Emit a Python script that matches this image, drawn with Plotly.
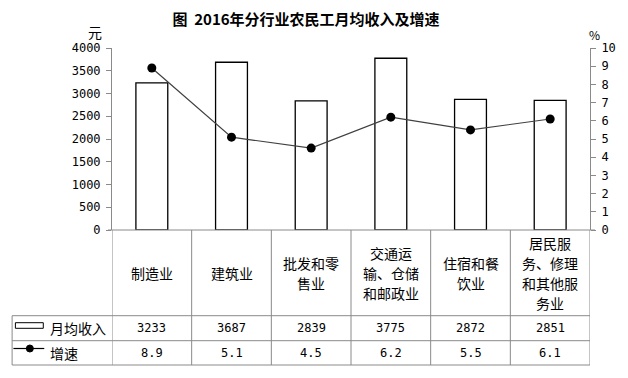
import plotly.graph_objects as go

categories = ["制造业", "建筑业", "批发和零\n售业", "交通运\n输、仓储\n和邮政业", "住宿和餐\n饮业", "居民服\n务、修理\n和其他服\n务业"]
income = [3233, 3687, 2839, 3775, 2872, 2851]
growth = [8.9, 5.1, 4.5, 6.2, 5.5, 6.1]
series_names = ["月均收入", "增速"]
title_text = "图  2016年分行业农民工月均收入及增速"

W, H = 628, 378
L, R, T, B = 112, 36, 48, 148
PH = H - T - B
PW = W - L - R

def py(ypx):
    return (H - B - ypx) / PH

def px(xpx):
    return (xpx - L) / PW

CJK = "Noto Sans CJK SC"
MONO = "DejaVu Sans Mono"
GRAY = "#8a8a8a"

xs = list(range(len(categories)))

fig = go.Figure()
fig.add_trace(go.Bar(x=xs, y=income, width=0.4, name=series_names[0],
                     marker=dict(color="white", line=dict(color="black", width=1.3)),
                     yaxis="y"))
fig.add_trace(go.Scatter(x=xs, y=growth, mode="lines+markers", name=series_names[1],
                         line=dict(color="#404040", width=1.2),
                         marker=dict(color="black", size=9), yaxis="y2"))

shapes = []
for yy in [315.7, 340.7, 365]:
    shapes.append(dict(type="line", xref="paper", yref="paper", x0=px(11.7), x1=1, y0=py(yy), y1=py(yy),
                       line=dict(color=GRAY, width=1)))
shapes.append(dict(type="line", xref="paper", yref="paper", x0=px(11.7), x1=px(11.7), y0=py(315.7), y1=py(365),
                   line=dict(color=GRAY, width=1)))
for i in range(len(categories) + 1):
    shapes.append(dict(type="line", xref="x", yref="paper", x0=i - 0.5, x1=i - 0.5, y0=0, y1=py(365),
                       line=dict(color=GRAY, width=1)))
shapes.append(dict(type="rect", xref="paper", yref="paper", x0=px(15), x1=px(43), y0=py(328.3), y1=py(322.7),
                   line=dict(color="black", width=1), fillcolor="white"))
shapes.append(dict(type="line", xref="paper", yref="paper", x0=px(13), x1=px(44), y0=py(348.5), y1=py(348.5),
                   line=dict(color="black", width=1.2)))
shapes.append(dict(type="circle", xref="paper", yref="paper", x0=px(26), x1=px(33), y0=py(352), y1=py(345),
                   line=dict(color="black", width=1), fillcolor="black"))
shapes.append(dict(type="line", xref="paper", yref="paper", x0=px(108), x1=px(597), y0=0, y1=0,
                   line=dict(color=GRAY, width=1)))

annotations = []
for i, c in enumerate(categories):
    lines = c.split("\n")
    n = len(lines)
    for j, ln in enumerate(lines):
        yc = 273 + (j - (n - 1) / 2) * 20
        annotations.append(dict(x=i, y=py(yc), xref="x", yref="paper", text=ln, showarrow=False,
                                xanchor="center", yanchor="middle", font=dict(family=CJK, size=14, color="black")))
for i, v in enumerate(income):
    annotations.append(dict(x=i, y=py(328.2), xref="x", yref="paper", text=str(v), showarrow=False,
                            xanchor="center", yanchor="middle", font=dict(family=MONO, size=12, color="black")))
for i, v in enumerate(growth):
    annotations.append(dict(x=i, y=py(352.8), xref="x", yref="paper", text=f"{v:.1f}", showarrow=False,
                            xanchor="center", yanchor="middle", font=dict(family=MONO, size=12, color="black")))
annotations.append(dict(x=px(48), y=py(328.2), xref="paper", yref="paper", text=series_names[0], showarrow=False,
                        xanchor="left", yanchor="middle", font=dict(family=CJK, size=14, color="black")))
annotations.append(dict(x=px(48), y=py(352.8), xref="paper", yref="paper", text=series_names[1], showarrow=False,
                        xanchor="left", yanchor="middle", font=dict(family=CJK, size=14, color="black")))
annotations.append(dict(x=px(95), y=py(32), xref="paper", yref="paper", text="元", showarrow=False,
                        xanchor="center", yanchor="middle", font=dict(family=CJK, size=14, color="black")))
annotations.append(dict(x=px(597), y=py(34), xref="paper", yref="paper", text="%", showarrow=False,
                        xanchor="center", yanchor="middle", font=dict(family=CJK, size=12, color="black")))

fig.update_layout(
    width=W, height=H,
    margin=dict(l=L, r=R, t=T, b=B, pad=0),
    paper_bgcolor="white", plot_bgcolor="white",
    showlegend=False,
    title=dict(text="<b>" + title_text + "</b>", x=306 / W, xref="container", xanchor="center",
               y=1 - 20 / H, yanchor="middle", font=dict(family=CJK, size=15, color="black")),
    xaxis=dict(range=[-0.5, len(categories) - 0.5], showticklabels=False, ticks="",
               showgrid=False, zeroline=False, showline=False),
    yaxis=dict(range=[0, 4000], dtick=500, ticks="outside", ticklen=5, tickcolor=GRAY,
               showline=True, linecolor=GRAY, linewidth=1, showgrid=False, zeroline=False,
               ticklabelstandoff=3,
               tickfont=dict(family=MONO, size=12, color="black")),
    yaxis2=dict(range=[0, 10], dtick=1, overlaying="y", side="right", ticks="outside", ticklen=5,
                tickcolor=GRAY, showline=True, linecolor=GRAY, linewidth=1, showgrid=False, zeroline=False,
                ticklabelstandoff=3,
                tickfont=dict(family=MONO, size=12, color="black")),
    shapes=shapes,
    annotations=annotations,
)

fig.write_html("out.html", config={"displayModeBar": False},
               post_script="document.body.style.margin='0';document.body.style.overflow='hidden';")
